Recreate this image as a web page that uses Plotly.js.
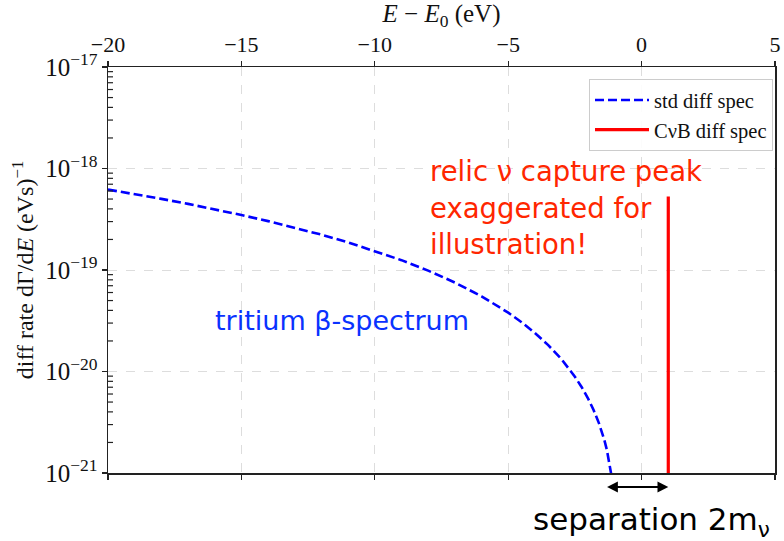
<!DOCTYPE html>
<html>
<head>
<meta charset="utf-8">
<script src="https://cdn.plot.ly/plotly-3.0.1.min.js"></script>
<style>html,body{margin:0;padding:0;background:#fff;}#chart{width:784px;height:541px;}</style>
</head>
<body>
<div id="chart"></div>
<script>
// Energy relative to endpoint (eV) and differential rate
const stdEnergy = [-20, -19, -18, -17, -16, -15, -14, -13, -12, -11, -10, -9, -8, -7, -6, -5, -4.5, -4, -3.5, -3, -2.5, -2.25, -2, -1.8, -1.6, -1.5, -1.4, -1.3, -1.2, -1.15, -1.1];
const stdRate = [6.20e-19, 5.60e-19, 5.02e-19, 4.48e-19, 3.97e-19, 3.48e-19, 3.03e-19, 2.62e-19, 2.23e-19, 1.87e-19, 1.54e-19, 1.25e-19, 9.86e-20, 7.53e-20, 5.51e-20, 3.80e-20, 3.06e-20, 2.40e-20, 1.82e-20, 1.32e-20, 8.89e-21, 7.04e-21, 5.38e-21, 4.18e-21, 3.10e-21, 2.60e-21, 2.13e-21, 1.68e-21, 1.24e-21, 1.01e-21, 7.8e-22];
const cvbEnergy = [1, 1];
const cvbRate = [1e-22, 5.3e-19];
const xTicks = [-20, -15, -10, -5, 0, 5];
const xTickText = ['\u221220', '\u221215', '\u221210', '\u22125', '0', '5'];
const yMinorTicks = [2e-21,3e-21,4e-21,5e-21,6e-21,7e-21,8e-21,9e-21,
                     2e-20,3e-20,4e-20,5e-20,6e-20,7e-20,8e-20,9e-20,
                     2e-19,3e-19,4e-19,5e-19,6e-19,7e-19,8e-19,9e-19,
                     2e-18,3e-18,4e-18,5e-18,6e-18,7e-18,8e-18,9e-18];

const serif = 'Liberation Serif, Times New Roman, serif';
const sans = 'DejaVu Sans, Arial, sans-serif';

const traces = [
  {x: stdEnergy, y: stdRate, mode: 'lines', name: 'std diff spec',
   line: {color: '#0000ff', width: 2.6, dash: '9px,4px'}},
  {x: cvbEnergy, y: cvbRate, mode: 'lines', name: 'C\u03bdB diff spec',
   line: {color: '#ff0000', width: 3.2}}
];

// minor tick marks on the left (log) axis, inward
const minorTickShapes = yMinorTicks.map(v => ({
  type: 'line', xref: 'paper', yref: 'y', x0: 0, x1: 5/667, y0: v, y1: v,
  line: {color: '#222', width: 1.2}, layer: 'above'
}));

const layout = {
  width: 784, height: 541,
  margin: {l: 108, r: 9, t: 67, b: 68},
  paper_bgcolor: '#fff', plot_bgcolor: '#fff',
  showlegend: true,
  legend: {x: 0.997, y: 0.97, xanchor: 'right', yanchor: 'top', itemwidth: 54,
           bgcolor: 'rgba(255,255,255,0.9)', bordercolor: '#cccccc', borderwidth: 1,
           font: {family: serif, size: 20.5, color: '#111'}, tracegroupgap: 2},
  xaxis: {
    side: 'top', range: [-20, 5], tickvals: xTicks, ticktext: xTickText,
    showline: true, linecolor: '#222', linewidth: 1.5, mirror: 'allticks',
    ticks: 'outside', ticklen: 5, tickwidth: 1.2, tickcolor: '#222',
    showgrid: true, gridcolor: '#dddddd', griddash: 'dash', gridwidth: 1,
    zeroline: false,
    tickfont: {family: serif, size: 22, color: '#111'},
    title: {text: '<i>E</i> \u2212 <i>E</i><sub>0</sub> (eV)', font: {family: serif, size: 25, color: '#111'}, standoff: 4}
  },
  yaxis: {
    type: 'log', range: [-21, -17], dtick: 1, exponentformat: 'power',
    showline: true, linecolor: '#222', linewidth: 1.5, mirror: true,
    ticks: 'outside', ticklen: 5, tickwidth: 1.2, tickcolor: '#222',
    showgrid: true, gridcolor: '#dddddd', griddash: 'dash', gridwidth: 1,
    zeroline: false,
    tickfont: {family: serif, size: 20, color: '#111'},
    title: {text: 'diff rate d\u0393/d<i>E</i> (eVs)<sup>\u22121</sup>', font: {family: serif, size: 24, color: '#111'}, standoff: 4}
  },
  shapes: minorTickShapes,
  annotations: [
    {text: 'relic \u03bd capture peak', xref: 'paper', yref: 'paper', x: (428-108)/667, y: 1-(171-67)/406,
     xanchor: 'left', yanchor: 'middle', showarrow: false, font: {family: sans, size: 27.5, color: '#ff2600'}},
    {text: 'exaggerated for', xref: 'paper', yref: 'paper', x: (428-108)/667, y: 1-(208-67)/406,
     xanchor: 'left', yanchor: 'middle', showarrow: false, font: {family: sans, size: 27.5, color: '#ff2600'}},
    {text: 'illustration!', xref: 'paper', yref: 'paper', x: (428-108)/667, y: 1-(244-67)/406,
     xanchor: 'left', yanchor: 'middle', showarrow: false, font: {family: sans, size: 27.5, color: '#ff2600'}},
    {text: 'tritium \u03b2-spectrum', xref: 'paper', yref: 'paper', x: (213-108)/667, y: 1-(320-67)/406,
     xanchor: 'left', yanchor: 'middle', showarrow: false, font: {family: sans, size: 27, color: '#0a32ff'}},
    {text: 'separation 2m<sub>\u03bd</sub>', xref: 'paper', yref: 'paper', x: (531-108)/667, y: 1-(521-67)/406,
     xanchor: 'left', yanchor: 'middle', showarrow: false, font: {family: sans, size: 31, color: '#000'}},
    {text: '', xref: 'x', yref: 'paper', x: 1.0, y: 1-(487-67)/406,
     axref: 'x', ayref: 'pixel', ax: -1.35, ay: 0,
     showarrow: true, arrowside: 'end+start', arrowhead: 2, arrowsize: 1.2, arrowwidth: 1.8, arrowcolor: '#000'}
  ]
};

Plotly.newPlot('chart', traces, layout, {displayModeBar: false, staticPlot: true});
</script>
</body>
</html>
